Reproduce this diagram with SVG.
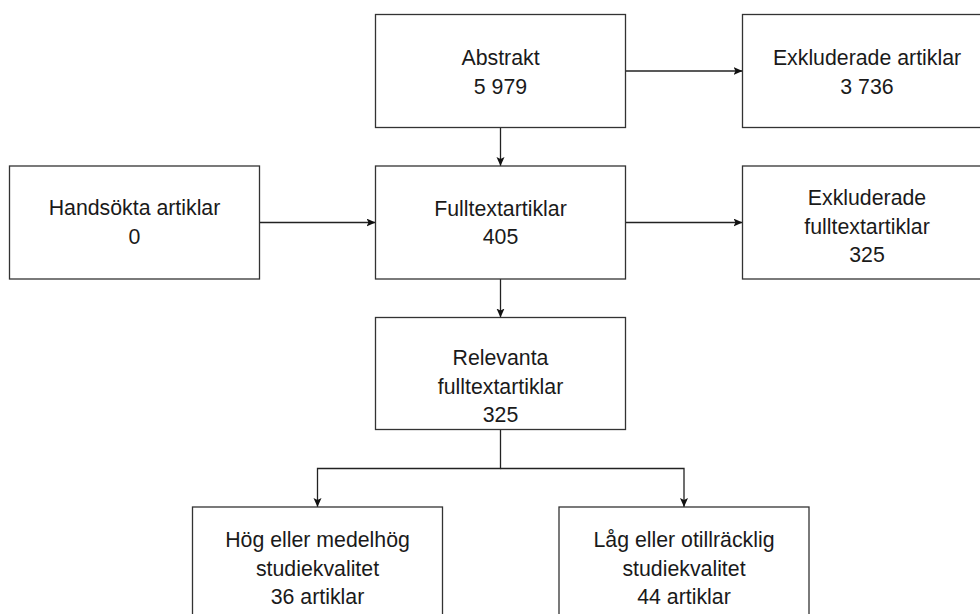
<svg xmlns="http://www.w3.org/2000/svg" width="980" height="614" viewBox="0 0 980 614">
<defs>
<style>
.box{fill:#fff;stroke:#333;stroke-width:1.3}
.t{font-family:"Liberation Sans",Arial,sans-serif;font-size:21.3px;fill:#1a1a1a;text-anchor:middle}
.c{fill:none;stroke:#222;stroke-width:1.3}
</style>
<marker id="ah" markerUnits="userSpaceOnUse" markerWidth="10" markerHeight="9" refX="9" refY="4" orient="auto">
<path d="M0,0 L9,4 L0,8 L2,4 z" fill="#111"/>
</marker>
</defs>
<rect width="980" height="614" fill="#fff"/>
<g id="connectors">
<line class="c" x1="625.5" y1="71" x2="742.5" y2="71" marker-end="url(#ah)"/>
<line class="c" x1="500.5" y1="127.5" x2="500.5" y2="166" marker-end="url(#ah)"/>
<line class="c" x1="259.5" y1="222.5" x2="375.5" y2="222.5" marker-end="url(#ah)"/>
<line class="c" x1="625.5" y1="222.5" x2="742.5" y2="222.5" marker-end="url(#ah)"/>
<line class="c" x1="500.5" y1="279" x2="500.5" y2="317.5" marker-end="url(#ah)"/>
<path class="c" d="M500.5,429.5 V468.5 H317.5 V507" marker-end="url(#ah)"/>
<path class="c" d="M500.5,468.5 H684 V507" marker-end="url(#ah)"/>
</g>
<g id="abstrakt">
<rect class="box" x="375.5" y="14.5" width="250" height="113"/>
<text class="t" x="500.5" y="65">Abstrakt</text>
<text class="t" x="500.5" y="94">5 979</text>
</g>
<g id="exkluderade-artiklar">
<rect class="box" x="742.5" y="14.5" width="250" height="113"/>
<text class="t" x="867" y="65">Exkluderade artiklar</text>
<text class="t" x="867" y="94">3 736</text>
</g>
<g id="handsokta">
<rect class="box" x="9.5" y="166" width="250" height="113"/>
<text class="t" x="134.5" y="215">Handsökta artiklar</text>
<text class="t" x="134.5" y="244">0</text>
</g>
<g id="fulltext">
<rect class="box" x="375.5" y="166" width="250" height="113"/>
<text class="t" x="500.5" y="216">Fulltextartiklar</text>
<text class="t" x="500.5" y="244">405</text>
</g>
<g id="exkluderade-fulltext">
<rect class="box" x="742.5" y="166" width="250" height="113"/>
<text class="t" x="867" y="205">Exkluderade</text>
<text class="t" x="867" y="233.5">fulltextartiklar</text>
<text class="t" x="867" y="262">325</text>
</g>
<g id="relevanta">
<rect class="box" x="375.5" y="317.5" width="250" height="112"/>
<text class="t" x="500.5" y="365">Relevanta</text>
<text class="t" x="500.5" y="393.5">fulltextartiklar</text>
<text class="t" x="500.5" y="422">325</text>
</g>
<g id="hog">
<rect class="box" x="192.5" y="507" width="250" height="113"/>
<text class="t" x="317.5" y="547">Hög eller medelhög</text>
<text class="t" x="317.5" y="575.5">studiekvalitet</text>
<text class="t" x="317.5" y="604">36 artiklar</text>
</g>
<g id="lag">
<rect class="box" x="559" y="507" width="250" height="113"/>
<text class="t" x="684" y="547">Låg eller otillräcklig</text>
<text class="t" x="684" y="575.5">studiekvalitet</text>
<text class="t" x="684" y="604">44 artiklar</text>
</g>
</svg>
